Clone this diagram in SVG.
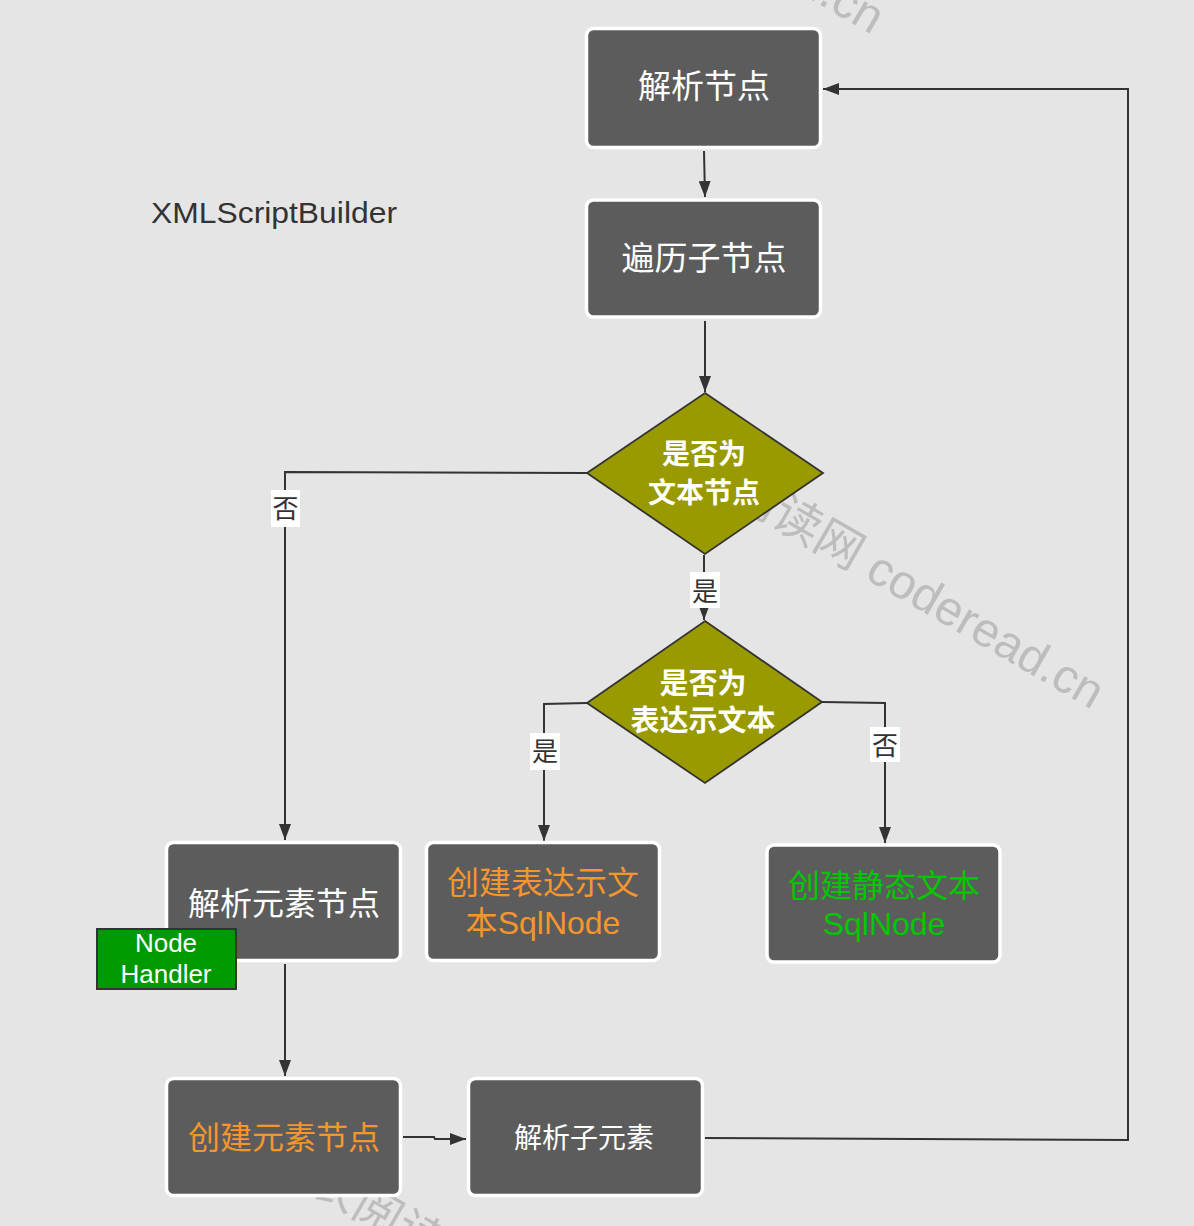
<svg xmlns="http://www.w3.org/2000/svg" width="1194" height="1226" viewBox="0 0 1194 1226">
<defs>
<marker id="arrow" viewBox="0 0 16 12" markerUnits="userSpaceOnUse" markerWidth="16" markerHeight="12" refX="16" refY="6" orient="auto">
<path d="M0,0 L16,6 L0,12 z" fill="#333333"/>
</marker>
<style>
.bg{fill:#e5e5e5}
.wm{font-family:"Liberation Sans","Noto Sans CJK SC",sans-serif;font-size:48px;fill:#bdbdbd}
.box{fill:#5c5c5c;stroke:#ffffff;stroke-width:3.5}
.dia{fill:#999900;stroke:#333333;stroke-width:1.8}
.t{font-family:"Noto Sans CJK SC","Liberation Sans",sans-serif;text-anchor:middle}
.tw{fill:#ffffff;font-size:33px}
.to{fill:#f5962d;font-size:32px}
.tg{fill:#00c800;font-size:32px}
.lat{font-family:"Liberation Sans","Noto Sans CJK SC",sans-serif}
.dt{fill:#ffffff;font-size:28px;font-weight:bold}
.edge{fill:none;stroke:#333333;stroke-width:2}
.lbg{fill:#ffffff}
.lbl{font-family:"Noto Sans CJK SC",sans-serif;font-size:26px;fill:#333333;text-anchor:middle}
</style>
</defs>
<rect class="bg" x="0" y="0" width="1194" height="1226"/>
<g id="watermark">
<text class="wm" transform="translate(424,-224) rotate(30)">码农阅读网 coderead.cn</text>
<text class="wm" transform="translate(644,451) rotate(30)">码农阅读网 coderead.cn</text>
<text class="wm" transform="translate(266,1166) rotate(30)">码农阅读网 coderead.cn</text>
</g>
<text x="151" y="223" font-family="Liberation Sans, sans-serif" font-size="29" fill="#333333" textLength="246" lengthAdjust="spacingAndGlyphs">XMLScriptBuilder</text>
<g id="connectors">
<path class="edge" d="M704,151 L705,197" marker-end="url(#arrow)"/>
<path class="edge" d="M705,321 L705,392" marker-end="url(#arrow)"/>
<path class="edge" d="M587,473 L285,472 L285,840" marker-end="url(#arrow)"/>
<path class="edge" d="M704,555 L704,620" stroke-width="3" marker-end="url(#arrow)"/>
<path class="edge" d="M587,703 L544,704 L544,841" marker-end="url(#arrow)"/>
<path class="edge" d="M822,702 L885,703 L885,843" marker-end="url(#arrow)"/>
<path class="edge" d="M285,964 L285,1076" marker-end="url(#arrow)"/>
<path class="edge" d="M403,1137 L434,1137 L435,1139 L466,1139" marker-end="url(#arrow)"/>
<path class="edge" d="M705,1138 L1128,1140 L1128,89 L823,89" marker-end="url(#arrow)"/>
<rect class="lbg" x="271" y="490" width="29" height="37"/>
<text class="lbl" x="285.5" y="518">否</text>
<rect class="lbg" x="690" y="572" width="30" height="36"/>
<text class="lbl" x="705" y="601">是</text>
<rect class="lbg" x="530" y="733" width="30" height="37"/>
<text class="lbl" x="545" y="761">是</text>
<rect class="lbg" x="870" y="727" width="30" height="35"/>
<text class="lbl" x="885" y="755">否</text>
</g>
<g id="n-parse-node">
<rect class="box" x="586.5" y="28.5" width="234" height="119" rx="7"/>
<text class="t tw" x="704" y="98">解析节点</text>
</g>
<g id="n-iterate">
<rect class="box" x="586.5" y="200" width="234" height="117" rx="7"/>
<text class="t tw" x="704" y="270">遍历子节点</text>
</g>
<g id="d-is-text">
<polygon class="dia" points="705,393 823,473 705,554 587,473"/>
<text class="t dt" x="704" y="464">是否为</text>
<text class="t dt" x="704" y="503">文本节点</text>
</g>
<g id="d-is-expr">
<polygon class="dia" points="705,621 822,702 705,783 587,703"/>
<text class="t dt" x="703" y="694" style="font-size:29px">是否为</text>
<text class="t dt" x="703" y="731" style="font-size:29px">表达示文本</text>
</g>
<g id="n-parse-element">
<rect class="box" x="166.5" y="842.5" width="234" height="118" rx="7"/>
<text class="t tw" x="284" y="915" style="font-size:32px">解析元素节点</text>
</g>
<g id="n-node-handler">
<rect x="97" y="929" width="139" height="60" fill="#009900" stroke="#333333" stroke-width="2"/>
<text class="lat" x="166" y="952" font-size="26" fill="#ffffff" text-anchor="middle">Node</text>
<text class="lat" x="166" y="983" font-size="26" fill="#ffffff" text-anchor="middle">Handler</text>
</g>
<g id="n-expr-sqlnode">
<rect class="box" x="426.5" y="842.5" width="233" height="118" rx="7"/>
<text class="t to" x="543" y="894">创建表达示文</text>
<text class="t to" x="543" y="934">本<tspan class="lat">SqlNode</tspan></text>
</g>
<g id="n-static-sqlnode">
<rect class="box" x="767" y="845" width="233" height="117" rx="7"/>
<text class="t tg" x="884" y="897">创建静态文本</text>
<text class="t tg lat" x="884" y="935">SqlNode</text>
</g>
<g id="n-create-element">
<rect class="box" x="166.5" y="1078.5" width="234" height="117" rx="7"/>
<text class="t to" x="284" y="1149">创建元素节点</text>
</g>
<g id="n-parse-child">
<rect class="box" x="468.5" y="1078.5" width="234" height="117" rx="7"/>
<text class="t tw" x="584" y="1148" style="font-size:28px">解析子元素</text>
</g>
</svg>
